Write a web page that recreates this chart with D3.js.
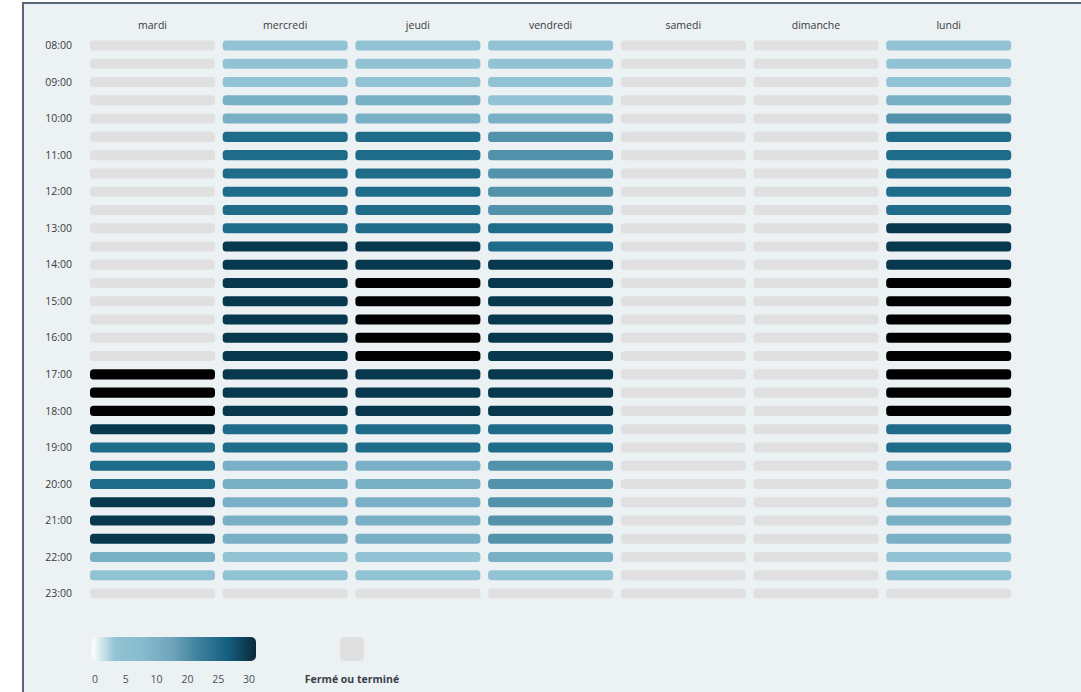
<!DOCTYPE html>
<html>
<head>
<meta charset="utf-8">
<script src="https://cdn.jsdelivr.net/npm/d3@7"></script>
<style>
    body { margin: 0; background: #ffffff; }
    svg { display: block; font-family: "Open Sans", "Noto Sans", sans-serif; }
    .lbl { font-size: 10.5px; fill: #3a3a3a; }
</style>
</head>
<body>
<div id="chart"></div>
<script>
// days shown as columns
days = ["mardi", "mercredi", "jeudi", "vendredi", "samedi", "dimanche", "lundi"]

// half-hour slots (rows)
slots = ["08:00", "08:30", "09:00", "09:30", "10:00", "10:30", "11:00", "11:30",
    "12:00", "12:30", "13:00", "13:30", "14:00", "14:30", "15:00", "15:30",
    "16:00", "16:30", "17:00", "17:30", "18:00", "18:30", "19:00", "19:30",
    "20:00", "20:30", "21:00", "21:30", "22:00", "22:30", "23:00"]

// counts per slot, null = fermé ou terminé
mardi = [null, null, null, null, null, null, null, null, null, null, null, null, null, null, null, null,
    null, null, 32, 33, 32, 27, 22, 22, 22, 27, 27, 27, 8, 4, null]
mercredi = [4, 4, 4, 8, 8, 22, 22, 22, 22, 22, 22, 27, 27, 27, 27, 27,
    27, 27, 27, 27, 27, 22, 22, 8, 8, 8, 8, 8, 4, 4, null]
jeudi = [4, 4, 4, 8, 8, 22, 22, 22, 22, 22, 22, 27, 27, 32, 33, 32,
    33, 32, 27, 27, 27, 22, 22, 8, 8, 8, 8, 8, 4, 4, null]
vendredi = [4, 4, 4, 4, 8, 14, 14, 14, 14, 14, 22, 21, 27, 27, 27, 27,
    27, 27, 27, 27, 27, 22, 22, 14, 14, 14, 14, 14, 8, 4, null]
samedi = [null, null, null, null, null, null, null, null, null, null, null, null, null, null, null, null,
    null, null, null, null, null, null, null, null, null, null, null, null, null, null, null]
dimanche = [null, null, null, null, null, null, null, null, null, null, null, null, null, null, null, null,
    null, null, null, null, null, null, null, null, null, null, null, null, null, null, null]
lundi = [4, 4, 4, 8, 14, 22, 22, 22, 22, 22, 27, 27, 27, 32, 33, 32,
    33, 32, 32, 33, 32, 22, 22, 8, 8, 8, 8, 8, 4, 4, null]

// colour thresholds and legend
thresholds = [5, 10, 20, 25, 30]
levelColors = ["#92c3d4", "#7ab0c6", "#5392ab", "#1f6b8a", "#08384d", "#000000"]
legendTicks = ["0", "5", "10", "20", "25", "30"]
gradientStops = ["#ffffff", "#92c3d4", "#86bace", "#6fa5bb", "#3d7f9c", "#145e80", "#0b2a38"]
closedColor = "#e0e0e0"
closedLabel = "Fermé ou terminé"

function draw() {
    var counts = {
        "mardi": mardi, "mercredi": mercredi, "jeudi": jeudi, "vendredi": vendredi,
        "samedi": samedi, "dimanche": dimanche, "lundi": lundi
    }

    var width = 1081, height = 692

    var svg = d3.select("#chart").append("svg")
        .attr("width", width)
        .attr("height", height)

    // panel with left/top border
    svg.append("rect")
        .attr("x", 23).attr("y", 3)
        .attr("width", width + 20).attr("height", height + 20)
        .attr("fill", "#ecf1f4")
        .attr("stroke", "#5b6677")
        .attr("stroke-width", 2)

    var x = d3.scaleBand()
        .domain(days)
        .range([90, 1011.2])
        .paddingInner(0.058)
        .paddingOuter(0)

    var y = d3.scaleBand()
        .domain(slots)
        .range([40.5, 598.6])
        .paddingInner(0.45)
        .paddingOuter(0)

    var color = d3.scaleThreshold()
        .domain(thresholds)
        .range(levelColors)

    var cells = []
    days.forEach(function (day) {
        counts[day].forEach(function (v, i) {
            cells.push({day: day, slot: slots[i], value: v})
        })
    })

    svg.append("g")
        .selectAll("rect")
        .data(cells)
        .join("rect")
        .attr("x", function (d) { return x(d.day) })
        .attr("y", function (d) { return y(d.slot) })
        .attr("width", x.bandwidth())
        .attr("height", y.bandwidth())
        .attr("rx", 3.5)
        .attr("fill", function (d) {
            return d.value == null ? closedColor : color(d.value)
        })

    // day labels
    svg.append("g")
        .selectAll("text")
        .data(days)
        .join("text")
        .attr("class", "lbl")
        .attr("x", function (d) { return x(d) + x.bandwidth() / 2 })
        .attr("y", 29)
        .attr("text-anchor", "middle")
        .text(function (d) { return d })

    // hour labels (full hours only)
    svg.append("g")
        .selectAll("text")
        .data(slots.filter(function (s) { return s.substring(3) == "00" }))
        .join("text")
        .attr("class", "lbl")
        .attr("x", 72)
        .attr("y", function (d) { return y(d) + y.bandwidth() / 2 })
        .attr("dy", "0.35em")
        .attr("text-anchor", "end")
        .text(function (d) { return d })

    // legend gradient
    var grad = svg.append("defs").append("linearGradient")
        .attr("id", "lg")
        .attr("x1", "0%").attr("x2", "100%")
    grad.selectAll("stop")
        .data(gradientStops)
        .join("stop")
        .attr("offset", function (d, i) {
            return i == 0 ? "0%" : (14 + (i - 1) * 86 / (gradientStops.length - 2)) + "%"
        })
        .attr("stop-color", function (d) { return d })

    svg.append("rect")
        .attr("x", 92).attr("y", 637)
        .attr("width", 164).attr("height", 24)
        .attr("rx", 5)
        .attr("fill", "url(#lg)")

    var lx = d3.scalePoint()
        .domain(legendTicks)
        .range([95, 249])

    svg.append("g")
        .selectAll("text")
        .data(legendTicks)
        .join("text")
        .attr("class", "lbl")
        .attr("x", function (d) { return lx(d) })
        .attr("y", 683)
        .attr("text-anchor", "middle")
        .style("fill", "#4a4f58")
        .text(function (d) { return d })

    svg.append("rect")
        .attr("x", 340).attr("y", 637)
        .attr("width", 24).attr("height", 24)
        .attr("rx", 4)
        .attr("fill", closedColor)

    svg.append("text")
        .attr("class", "lbl")
        .attr("x", 352)
        .attr("y", 683)
        .attr("text-anchor", "middle")
        .style("font-weight", "bold")
        .style("fill", "#3a3f48")
        .text(closedLabel)
}

draw()
</script>
</body>
</html>
